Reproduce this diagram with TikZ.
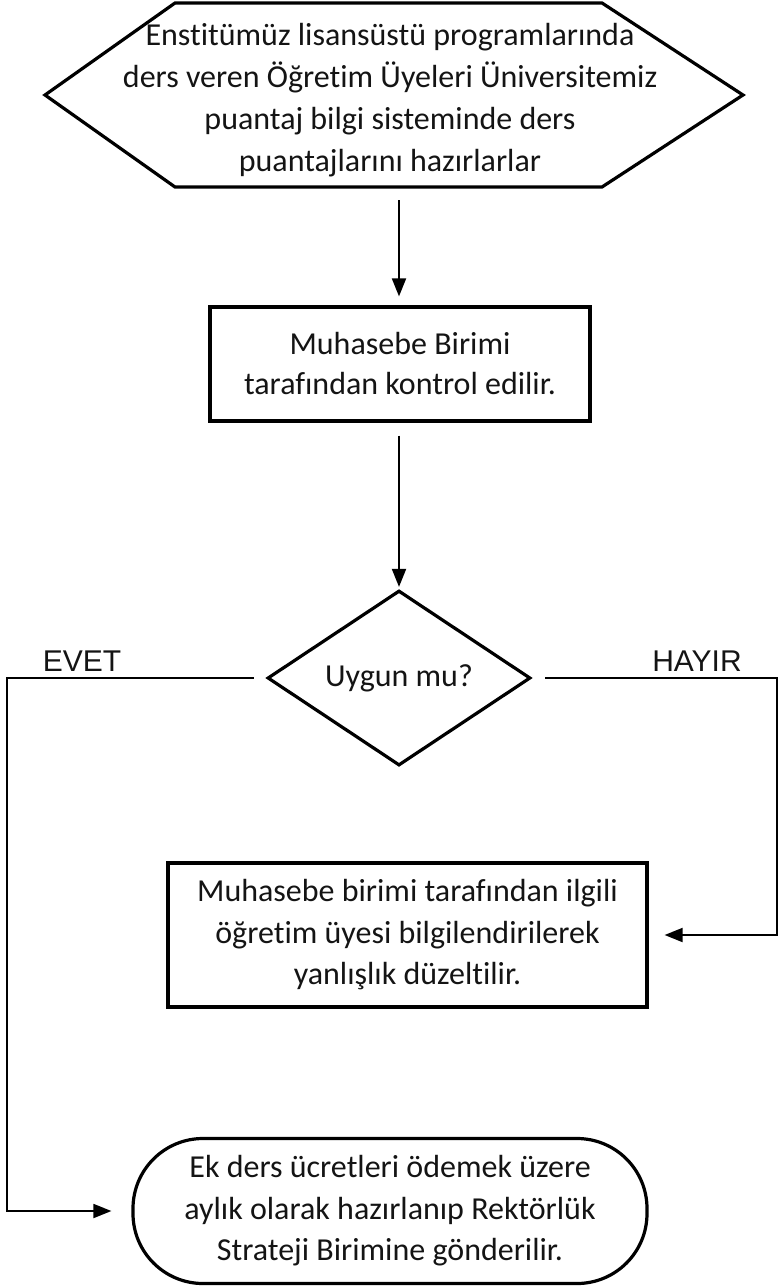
\documentclass[tikz,border=0pt]{standalone}
\usepackage{fontspec}
\setmainfont{Carlito}[Ligatures={TeX,NoCommon}]
\newfontfamily\labelfont{Liberation Sans}
\usetikzlibrary{arrows.meta,shapes.geometric}

\tikzset{
  txt/.style={align=center, inner sep=0pt, text=black!92,
    font=\fontsize{32}{41.5}\selectfont},
  box/.style={txt, draw, line width=3.2pt},
  edge/.style={line width=3.2pt, line join=miter},
  flow/.style={line width=1.9pt, -{Triangle[length=18pt,width=14pt]}},
  lbl/.style={inner sep=0pt, text=black!92, font=\labelfont\fontsize{30}{30}\selectfont}
}

\begin{document}
\begin{tikzpicture}[x=1pt,y=-1pt]
  % Canvas (pixel grid of the reference)
  \useasboundingbox (0,0) rectangle (779,1288);

  % Start: hexagon around the first text
  \coordinate (hexNW) at (175,3);
  \coordinate (hexNE) at (602,3);
  \coordinate (hexE)  at (743,95);
  \coordinate (hexSE) at (602,187);
  \coordinate (hexSW) at (175,187);
  \coordinate (hexW)  at (45,95);
  \coordinate (hexBot) at (399,187);
  \draw[edge] (hexNW) -- (hexNE) -- (hexE) -- (hexSE) -- (hexSW) -- (hexW) -- cycle;
  \node[txt, font=\fontsize{32}{42}\selectfont] (start) at (390,100)
    {Enstitümüz lisansüstü programlarında\\ders veren Öğretim Üyeleri Üniversitemiz\\puantaj bilgi sisteminde ders\\puantajlarını hazırlarlar};

  % Steps
  \node[box, minimum width=380pt, minimum height=114pt,
    font=\fontsize{32}{40}\selectfont] (check) at (400,364)
    {Muhasebe Birimi\\tarafından kontrol edilir.};
  \node[box, diamond, aspect=1.5, minimum width=263pt, minimum height=175pt] (dia) at (399,678)
    {Uygun mu?};
  \node[box, minimum width=479pt, minimum height=144pt] (fix) at (407.5,935)
    {Muhasebe birimi tarafından ilgili\\öğretim üyesi bilgilendirilerek\\yanlışlık düzeltilir.};
  \node[box, rounded corners=70pt, minimum width=514pt, minimum height=145pt] (son) at (390,1211)
    {Ek ders ücretleri ödemek üzere\\aylık olarak hazırlanıp Rektörlük\\Strateji Birimine gönderilir.};

  % Branch labels
  \node[lbl] (evet) at (82,661) {EVET};
  \node[lbl] (hayir) at (697,661) {HAYIR};

  % Bend points of the two branches
  \coordinate (evetTop) at (7,678);
  \coordinate (evetBot) at (7,1211);
  \coordinate (hayirTop) at (777,678);
  \coordinate (hayirBot) at (777,935);

  % Connectors
  \draw[flow, shorten <=13pt, shorten >=9pt] (hexBot) -- (hexBot |- check.north);
  \draw[flow, shorten <=13pt, shorten >=2pt] (dia.north |- check.south) -- (dia.north);
  \draw[flow, shorten <=12pt, shorten >=20pt] (dia.west) -- (evetTop) -- (evetBot) -- (son.west);
  \draw[flow, shorten <=13pt, shorten >=16pt] (dia.east) -- (hayirTop) -- (hayirBot) -- (fix.east);
\end{tikzpicture}
\end{document}
